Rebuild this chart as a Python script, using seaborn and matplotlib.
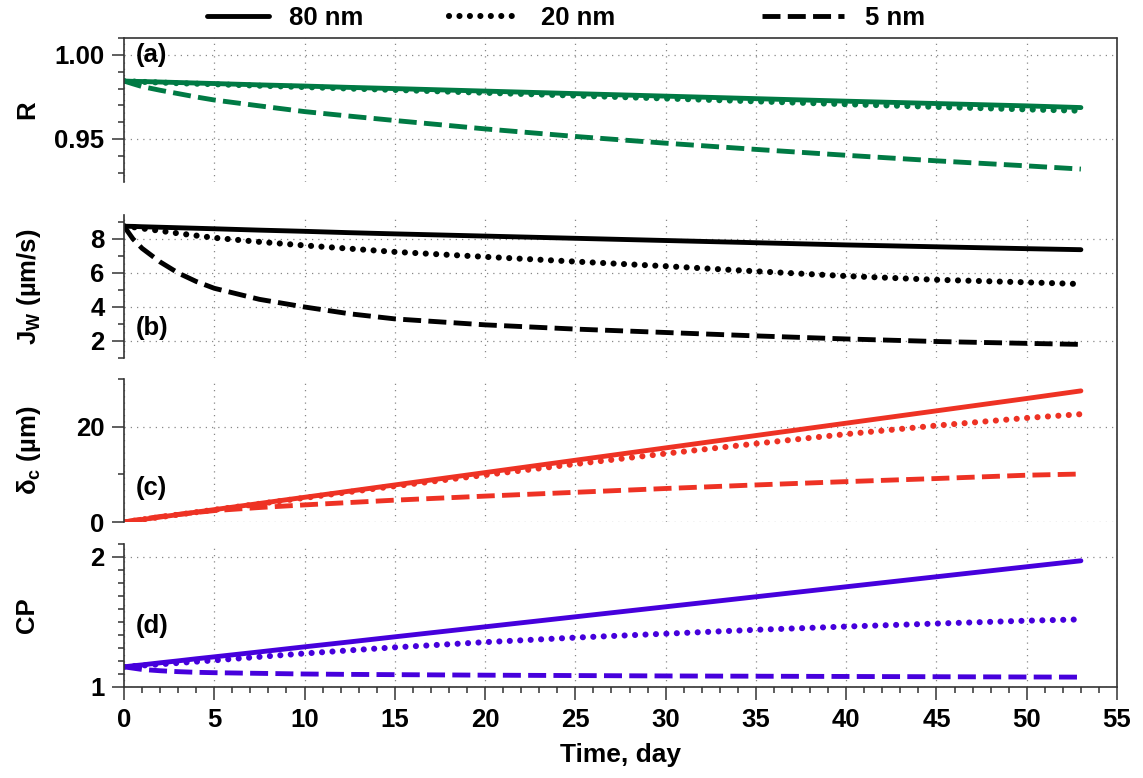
import numpy as np
import pandas as pd
import seaborn as sns
import matplotlib.pyplot as plt
from matplotlib.lines import Line2D
from matplotlib.ticker import MultipleLocator

# data (time in days)
time_day = [0, 0.5, 1, 2, 3, 4, 5, 7.5, 10, 12.5, 15, 20, 25, 30, 35, 40, 45, 50, 53]
sizes = ['80 nm', '20 nm', '5 nm']

# (a) rejection R
r_80 = [0.9845, 0.9843, 0.9842, 0.9839, 0.9836, 0.9833, 0.9830, 0.9822, 0.9815, 0.9807,
        0.9800, 0.9785, 0.9770, 0.9755, 0.9740, 0.9725, 0.9711, 0.9697, 0.9687]
r_20 = [0.9845, 0.9842, 0.9840, 0.9836, 0.9832, 0.9829, 0.9826, 0.9817, 0.9809, 0.9800,
        0.9792, 0.9775, 0.9758, 0.9741, 0.9724, 0.9707, 0.9691, 0.9676, 0.9668]
r_5 = [0.9845, 0.9828, 0.9812, 0.9790, 0.9770, 0.9750, 0.9732, 0.9697, 0.9663, 0.9636,
       0.9610, 0.9560, 0.9515, 0.9475, 0.9438, 0.9403, 0.9370, 0.9340, 0.9321]

# (b) water flux Jw (um/s)
jw_80 = [8.75, 8.74, 8.72, 8.69, 8.66, 8.63, 8.60, 8.52, 8.45, 8.37, 8.30,
         8.17, 8.04, 7.91, 7.78, 7.65, 7.54, 7.43, 7.37]
jw_20 = [8.75, 8.70, 8.62, 8.48, 8.33, 8.20, 8.07, 7.83, 7.62, 7.43, 7.24,
         6.95, 6.67, 6.40, 6.10, 5.82, 5.60, 5.45, 5.35]
jw_5 = [8.75, 8.00, 7.45, 6.65, 6.00, 5.50, 5.10, 4.45, 4.00, 3.60, 3.30,
        2.95, 2.70, 2.50, 2.30, 2.12, 1.97, 1.86, 1.80]

# (c) cake thickness delta_c (um)
dc_80 = [0, 0.26, 0.52, 1.04, 1.56, 2.08, 2.60, 3.90, 5.20, 6.50, 7.80,
         10.4, 13.0, 15.6, 18.2, 20.8, 23.4, 26.0, 27.6]
dc_20 = [0, 0.26, 0.52, 1.04, 1.55, 2.06, 2.57, 3.83, 5.08, 6.32, 7.55,
         9.9, 12.2, 14.4, 16.5, 18.5, 20.3, 21.9, 22.7]
dc_5 = [0, 0.30, 0.60, 1.15, 1.60, 2.00, 2.40, 3.05, 3.60, 4.10, 4.60,
        5.45, 6.25, 7.05, 7.80, 8.50, 9.15, 9.85, 10.1]

# (d) concentration polarisation CP
cp_80 = [1.155, 1.163, 1.170, 1.186, 1.201, 1.217, 1.232, 1.270, 1.309, 1.347, 1.386,
         1.463, 1.540, 1.617, 1.694, 1.771, 1.848, 1.925, 1.971]
cp_20 = [1.155, 1.160, 1.165, 1.175, 1.185, 1.195, 1.205, 1.232, 1.258, 1.282, 1.305,
         1.345, 1.380, 1.410, 1.440, 1.465, 1.488, 1.510, 1.520]
cp_5 = [1.155, 1.145, 1.135, 1.125, 1.118, 1.113, 1.110, 1.105, 1.100, 1.097, 1.095,
        1.091, 1.088, 1.085, 1.083, 1.081, 1.079, 1.077, 1.076]

panels = [
    ('R', 'R', [r_80, r_20, r_5], '#007a44', (0.9244, 1.0101), 0.05, 0.01, '(a)', 0.88),
    ('Jw', r'J$_{W}$ (µm/s)', [jw_80, jw_20, jw_5], 'black', (1.0, 9.41), 2, 1, '(b)', 0.21),
    ('dc', r'δ$_{c}$ (µm)', [dc_80, dc_20, dc_5], '#ee3224', (0, 30.1), 20, 10, '(c)', 0.24),
    ('CP', 'CP', [cp_80, cp_20, cp_5], '#4600dc', (1.0, 2.1), 1, 0.1, '(d)', 0.43),
]

sns.set_style('ticks')
plt.rcParams['font.family'] = ['Liberation Sans', 'DejaVu Sans']
plt.rcParams['font.weight'] = 'bold'
plt.rcParams['mathtext.fontset'] = 'custom'
plt.rcParams['mathtext.bf'] = 'Liberation Sans:bold'
plt.rcParams['mathtext.rm'] = 'Liberation Sans:bold'
plt.rcParams['mathtext.default'] = 'bf'
for k in ['text.color', 'axes.labelcolor', 'xtick.color', 'ytick.color']:
    plt.rcParams[k] = 'black'

styles = {
    '80 nm': dict(linestyle='-', lw=3.5),
    '20 nm': dict(linestyle=(0, (0.01, 1.7)), lw=4.4, dash_capstyle='round'),
    '5 nm': dict(linestyle=(0, (3.7, 1.5)), lw=3.5),
}

W, H = 1143, 778
fig = plt.figure(figsize=(W / 100, H / 100), dpi=100)
left_px, right_px = 124, 1117
tops = [38, 215, 379, 544]
bots = [182, 358, 522, 687]

axes = []
for i, (key, ylab, series, color, ylim, major, minor, tag, tag_y) in enumerate(panels):
    ax = fig.add_axes([left_px / W, 1 - bots[i] / H, (right_px - left_px) / W,
                       (bots[i] - tops[i]) / H])
    df = pd.DataFrame({'t': time_day})
    for name, vals in zip(sizes, series):
        df[name] = vals
    for name in sizes:
        sns.lineplot(data=df, x='t', y=name, ax=ax, color=color, label=name,
                     legend=False, **styles[name])
    ax.set_xlim(0, 55)
    ax.set_ylim(*ylim)
    ax.xaxis.set_major_locator(MultipleLocator(5))
    ax.xaxis.set_minor_locator(MultipleLocator(1))
    ax.yaxis.set_major_locator(MultipleLocator(major))
    ax.yaxis.set_minor_locator(MultipleLocator(minor))
    ax.grid(True, which='major', linestyle=(0, (1, 4)), color='#888888', lw=0.9)
    ax.set_axisbelow(True)
    for s in ['top', 'right']:
        ax.spines[s].set_visible(False)
    ax.spines['left'].set_color('#333333')
    ax.spines['left'].set_linewidth(1.2)
    ax.tick_params(axis='y', which='major', direction='out', length=9, width=1.1,
                   labelsize=18.5, pad=5, color='#333333')
    ax.tick_params(axis='y', which='minor', direction='out', length=4.5, width=1.1,
                   color='#333333')
    if i < 3:
        ax.spines['bottom'].set_visible(False)
        ax.tick_params(axis='x', which='both', bottom=False, labelbottom=False)
        ax.set_xlabel('')
    else:
        ax.spines['bottom'].set_color('#333333')
        ax.spines['bottom'].set_linewidth(1.2)
        ax.tick_params(axis='x', which='major', direction='out', length=9, width=1.1,
                       labelsize=18.5, pad=6, color='#333333')
        ax.tick_params(axis='x', which='minor', direction='out', length=4, width=1.1,
                       color='#333333')
        ax.set_xlabel('Time, day', fontsize=19, fontweight='bold', labelpad=8)
    if key == 'R':
        ax.yaxis.set_major_formatter(plt.FormatStrFormatter('%.2f'))
    ax.set_ylabel(ylab, fontsize=18.5, fontweight='bold', va='top')
    ax.yaxis.set_label_coords(-0.11, 0.5)
    ax.text(0.012, tag_y, tag, transform=ax.transAxes, fontsize=18.5,
            fontweight='bold', va='center', ha='left')
    axes.append(ax)

# frame on top and right of the stacked panels
fig.add_artist(Line2D([left_px / W, right_px / W], [1 - tops[0] / H, 1 - tops[0] / H],
                      transform=fig.transFigure, color='#333333', lw=1.2))
fig.add_artist(Line2D([right_px / W, right_px / W], [1 - tops[0] / H, 1 - bots[3] / H],
                      transform=fig.transFigure, color='#333333', lw=1.2))

# legend above the frame, one entry per line style
handles = axes[1].get_lines()[:3]
leg_x = [198, 440, 753]
leg_len = [2.4, 2.8, 3.2]
for h, name, x, hl in zip(handles, sizes, leg_x, leg_len):
    fig.legend([h], [name], loc='center left', bbox_to_anchor=(x / W - 0.008, 1 - 18 / H),
               frameon=False, handlelength=hl, handletextpad=0.8,
               borderpad=0.2, prop={'weight': 'bold', 'size': 18.5})

fig.savefig('out.png', dpi=100)
